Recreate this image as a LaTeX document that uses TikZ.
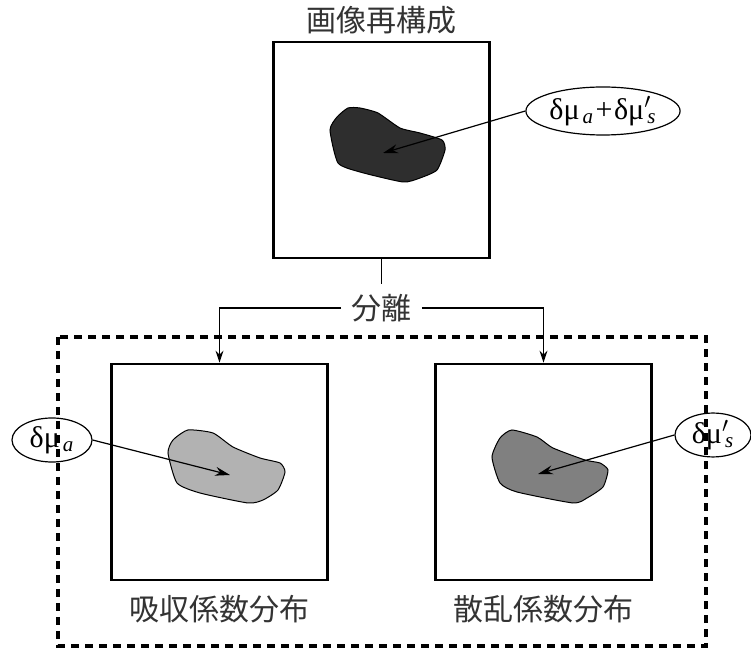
\documentclass[tikz,border=0pt]{standalone}
\usepackage{fontspec}
\setmainfont{Liberation Serif}
\newfontfamily\tagfont{Liberation Serif}
\newfontfamily\cjk{Noto Sans CJK JP}
\usetikzlibrary{positioning,arrows.meta,shapes}

\tikzset{
    imgbox/.style={draw, line width=1.4pt, minimum size=108pt, inner sep=0pt},
    tag/.style={draw, ellipse, line width=0.6pt, inner sep=0.5pt,
        font=\tagfont\fontsize{15pt}{15pt}\selectfont},
    pointer/.style={-{Stealth[length=7.5pt,width=4.5pt,inset=2.5pt]}, line width=0.6pt},
    branch/.style={-{Stealth[length=6pt,width=4pt,inset=2pt]}, line width=0.6pt},
    cjklabel/.style={font=\cjk\fontsize{15pt}{15pt}\selectfont, text=black!80, inner sep=5pt},
}
\newcommand{\dmu}{δμ}
\newcommand{\subsc}[1]{\kern0.1em\textsubscript{\textit{#1}}}

\begin{document}
\begin{tikzpicture}[x=0.5pt, y=-0.5pt]
    \useasboundingbox (0,0) rectangle (751,652);
    %
    \draw[line width=1.7pt, dash pattern=on 4pt off 3pt] (58,337) rectangle (706,646);
    %
    \node[imgbox] (recon) at (381.5,150) {};
    \node[imgbox] (absmap) at (219.5,472) {};
    \node[imgbox] (scatmap) at (543.5,472) {};
    %
    \node[cjklabel] (tRecon) at (381.5,20) {画像再構成};
    \node[cjklabel] (tAbs) at (219.5,609) {吸収係数分布};
    \node[cjklabel] (tScat) at (543.5,609) {散乱係数分布};
    %
    \fill[black!82, draw=black, line width=0.5pt] plot[smooth cycle, tension=0.35] coordinates
        {(348,108) (337,117) (330,130) (338,163) (360,172) (403,182) (420,178)
         (437,170) (445,150) (442,140) (420,133) (400,128) (378,113) (360,108)};
    \fill[black!30, draw=black, line width=0.5pt] plot[smooth cycle, tension=0.35] coordinates
        {(188,430) (173,440) (168,453) (177,483) (200,493) (248,503) (263,500)
         (278,490) (285,472) (280,463) (260,458) (233,447) (213,433)};
    \fill[black!50, draw=black, line width=0.5pt] plot[smooth cycle, tension=0.35] coordinates
        {(512,430) (500,438) (492,457) (500,483) (517,492) (573,503) (587,498)
         (603,487) (608,470) (600,463) (585,460) (553,448) (537,437)};
    %
    \node[coordinate] (pRecon) at (383,153) {};
    \node[coordinate] (pAbs) at (230,475) {};
    \node[coordinate] (pScat) at (538,474) {};
    %
    \node[tag, minimum width=75pt, minimum height=24pt] (eSum) at (603,111)
        {\dmu\subsc{a}\kern0.05em+\kern0.05em\dmu\rlap{$'$}\subsc{s}};
    \node[tag, minimum width=40pt, minimum height=22pt] (eAbs) at (52,440)
        {\dmu\subsc{a}};
    \node[tag, minimum width=38pt, minimum height=21.5pt] (eScat) at (713,435)
        {\dmu\rlap{$'$}\subsc{s}};
    %
    \draw[pointer] (eSum.west) -- (pRecon);
    \draw[pointer] (eAbs.east) -- (pAbs);
    \draw[pointer] (eScat.west) -- (pScat);
    %
    \node[cjklabel] (sep) at (381.5,308) {分離};
    \draw[line width=0.6pt] (recon.south) -- (sep.north);
    \draw[branch] (sep.west) -| (absmap.north);
    \draw[branch] (sep.east) -| (scatmap.north);
\end{tikzpicture}
\end{document}
